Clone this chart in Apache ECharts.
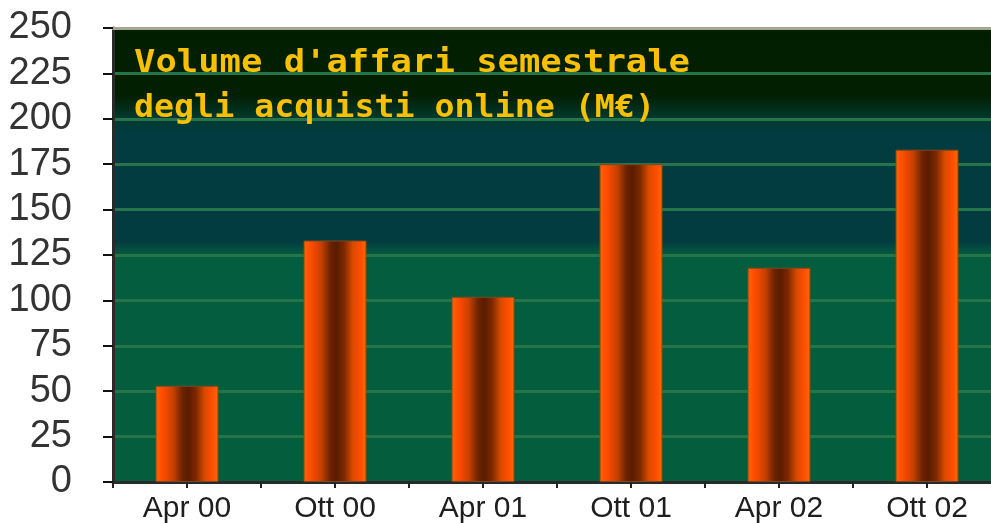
<!DOCTYPE html>
<html>
<head>
<meta charset="utf-8">
<title>Volume d'affari semestrale</title>
<script src="https://cdn.jsdelivr.net/npm/echarts@6/dist/echarts.min.js"></script>
<style>
html, body { margin: 0; padding: 0; background: #ffffff; }
#chart { width: 991px; height: 523px; }
</style>
</head>
<body>
<div id="chart"></div>
<script>
// dati
var categories = ["Apr 00", "Ott 00", "Apr 01", "Ott 01", "Apr 02", "Ott 02"];
var volumi = [53, 133, 102, 175, 118, 183];
var titleLines = ["Volume d'affari semestrale", "degli acquisti online (M€)"];

var myChart = echarts.init(document.getElementById("chart"), null, { renderer: "canvas" });

// sfondo del grafico: fascia scura in alto, blu-verde al centro, verde in basso
var sfondo = new echarts.graphic.LinearGradient(0, 0, 0, 1, [
	{ offset: 0, color: "#011e00" },
	{ offset: 0.15, color: "#021f02" },
	{ offset: 0.2, color: "#033a30" },
	{ offset: 0.23, color: "#023b40" },
	{ offset: 0.47, color: "#023b40" },
	{ offset: 0.5, color: "#045d3e" },
	{ offset: 1, color: "#045e3e" }
]);

// colonne arancioni con centro scuro
var colonna = new echarts.graphic.LinearGradient(0, 0, 1, 0, [
	{ offset: 0, color: "#ff6400" },
	{ offset: 0.12, color: "#ff4a00" },
	{ offset: 0.28, color: "#c84000" },
	{ offset: 0.42, color: "#6e2400" },
	{ offset: 0.52, color: "#5a1c00" },
	{ offset: 0.64, color: "#7a2800" },
	{ offset: 0.78, color: "#d84a00" },
	{ offset: 0.9, color: "#ff4c00" },
	{ offset: 1, color: "#ff6a00" }
]);

var options = {
	backgroundColor: "#ffffff",
	animation: false,
	grid: {
		left: 113,
		top: 28,
		right: -10,
		bottom: 41,
		outerBoundsMode: "none",
		show: true,
		backgroundColor: sfondo,
		borderWidth: 0
	},
	xAxis: [
		{
			type: "category",
			data: categories,
			position: "bottom",
			axisLine: { lineStyle: { color: "#2a2a2a", width: 3 } },
			axisTick: { show: true, length: 6, lineStyle: { color: "#222222", width: 2 } },
			axisLabel: {
				color: "#1e1e1e",
				fontFamily: "Liberation Sans",
				fontSize: 30,
				margin: 12
			},
			splitLine: { show: false }
		},
		{
			type: "category",
			data: categories,
			position: "bottom",
			axisLine: { show: false },
			axisTick: { show: true, alignWithLabel: true, length: 6, lineStyle: { color: "#222222", width: 2 } },
			axisLabel: { show: false },
			splitLine: { show: false }
		},
		{
			type: "category",
			data: categories,
			position: "top",
			axisLine: { lineStyle: { color: "#a6a594", width: 3 } },
			axisTick: { show: false },
			axisLabel: { show: false },
			splitLine: { show: false }
		}
	],
	yAxis: {
		type: "value",
		min: 0,
		max: 250,
		interval: 25,
		axisLine: { show: true, lineStyle: { color: "#2a2a2a", width: 3 } },
		axisTick: { show: true, length: 10, lineStyle: { color: "#111111", width: 2 } },
		axisLabel: {
			color: "#333333",
			fontFamily: "Liberation Sans",
			fontSize: 38,
			margin: 41
		},
		splitLine: { show: true, lineStyle: { color: "#26744a", width: 3 } }
	},
	graphic: [
		{
			type: "text",
			x: 134,
			y: 64,
			scaleX: 1.11,
			z: 10,
			style: {
				text: titleLines[0],
				fill: "#f7c000",
				font: "bold 32px 'DejaVu Sans Mono'",
				verticalAlign: "middle"
			}
		},
		{
			type: "text",
			x: 134,
			y: 109,
			scaleX: 1.04,
			z: 10,
			style: {
				text: titleLines[1],
				fill: "#f7c000",
				font: "bold 32px 'DejaVu Sans Mono'",
				verticalAlign: "middle"
			}
		}
	],
	series: [{
		name: "Volume",
		type: "bar",
		xAxisIndex: 0,
		barWidth: 63,
		data: volumi,
		itemStyle: {
			color: colonna,
			borderColor: "#7a4a1e",
			borderWidth: 1
		}
	}]
};
myChart.setOption(options);
</script>
</body>
</html>
